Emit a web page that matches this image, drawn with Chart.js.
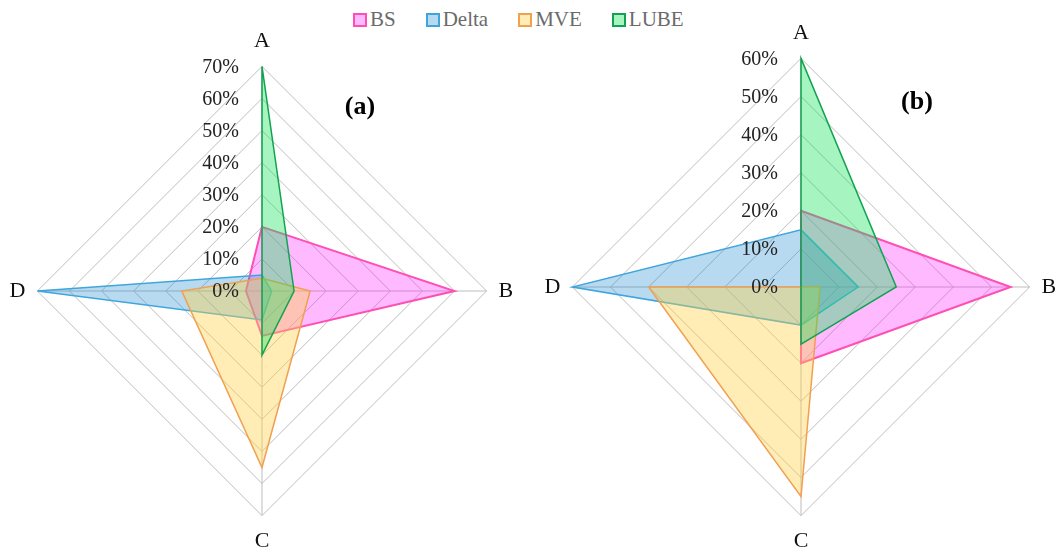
<!DOCTYPE html>
<html>
<head>
<meta charset="utf-8">
<script src="https://cdn.jsdelivr.net/npm/chart.js@4.4.1/dist/chart.umd.min.js"></script>
<style>
    html, body { margin: 0; padding: 0; background: #fff; overflow: hidden; }
    body { width: 1055px; height: 554px; position: relative; }
    .panel { position: absolute; top: 0; height: 554px; }
    #legend {
        position: absolute; top: 7px; left: 353px;
        font-family: 'Liberation Serif', serif; font-size: 21px; color: #6b6b6b;
        display: flex; gap: 30px; align-items: center;
    }
    #legend span { display: flex; align-items: center; }
    #legend i { display: inline-block; width: 10px; height: 10px; margin-right: 3px; border: 2px solid; }
</style>
</head>
<body>
<div id="legend"></div>
<div class="panel" style="left:0;width:525px"><canvas id="chartA"></canvas></div>
<div class="panel" style="left:525px;width:560px"><canvas id="chartB"></canvas></div>
<script>
// Axis categories
const axes = ['A', 'B', 'C', 'D'];
const seriesNames = ['BS', 'Delta', 'MVE', 'LUBE'];

// Panel (a) values, %
const bsA = [20, 60, 14, 5];
const deltaA = [5, 3, 9, 70];
const mveA = [4, 15, 55, 25];
const lubeA = [70, 10, 20, 0];

// Panel (b) values, %
const bsB = [20, 55, 20, 0];
const deltaB = [15, 15, 10, 60];
const mveB = [0, 5, 55, 40];
const lubeB = [60, 25, 15, 0];

const colors = {
    BS: { border: '#ff4fb4', fill: 'rgba(255, 40, 255, 0.32)' },
    Delta: { border: '#3ea6dc', fill: 'rgba(30, 140, 210, 0.32)' },
    MVE: { border: '#f0a050', fill: 'rgba(255, 210, 70, 0.4)' },
    LUBE: { border: '#12a352', fill: 'rgba(20, 225, 90, 0.38)' }
};

const serif = "'Liberation Serif', 'Times New Roman', serif";

// legend
const legendEl = document.getElementById('legend');
seriesNames.forEach(name => {
    const s = document.createElement('span');
    s.innerHTML = '<i style="background:' + colors[name].fill + ';border-color:' + colors[name].border + '"></i>' + name;
    legendEl.appendChild(s);
});

// draws tick labels left of the vertical axis and the panel tag
const sideTicks = {
    id: 'sideTicks',
    afterDraw(chart, args, opts) {
        const r = chart.scales.r;
        const ctx = chart.ctx;
        ctx.save();
        ctx.font = '20px ' + serif;
        ctx.fillStyle = '#222';
        ctx.textAlign = 'right';
        ctx.textBaseline = 'middle';
        r.ticks.forEach(t => {
            const d = r.getDistanceFromCenterForValue(t.value);
            ctx.fillText(t.value + '%', r.xCenter - 23, r.yCenter - d + 1);
        });
        ctx.font = 'bold 26px ' + serif;
        ctx.textAlign = 'center';
        ctx.fillStyle = '#000';
        ctx.fillText(opts.tag, r.xCenter + opts.dx, opts.y);
        ctx.restore();
    }
};

function makeDatasets(bs, delta, mve, lube) {
    // later series sit on top, like the original
    return [bs, delta, mve, lube].map((vals, i) => {
        const name = seriesNames[i];
        return {
            label: name,
            data: vals,
            order: 3 - i,
            borderColor: colors[name].border,
            backgroundColor: colors[name].fill,
            borderWidth: name === 'BS' ? 2 : 1.5,
            pointRadius: 0,
            fill: true
        };
    });
}

function makeChart(id, datasets, max, tag, tagDx, tagY, padding) {
    return new Chart(document.getElementById(id), {
        type: 'radar',
        data: { labels: axes, datasets: datasets },
        options: {
            responsive: true,
            maintainAspectRatio: false,
            animation: false,
            layout: { padding: padding },
            plugins: {
                legend: { display: false },
                tooltip: { enabled: false },
                sideTicks: { tag: tag, dx: tagDx, y: tagY }
            },
            scales: {
                r: {
                    min: 0,
                    max: max,
                    ticks: { stepSize: 10, display: false },
                    grid: { color: '#bdbdbd', lineWidth: 1 },
                    angleLines: { color: '#bdbdbd', lineWidth: 1 },
                    pointLabels: {
                        color: '#111',
                        padding: 12,
                        font: { family: serif, size: 22 }
                    }
                }
            }
        },
        plugins: [sideTicks]
    });
}

makeChart('chartA', makeDatasets(bsA, deltaA, mveA, lubeA), 70, '(a)', 98, 107,
    { left: 6, right: 8, top: 28, bottom: 0 });
makeChart('chartB', makeDatasets(bsB, deltaB, mveB, lubeB), 60, '(b)', 116, 102,
    { left: 3, right: 12, top: 20, bottom: 0 });
</script>
</body>
</html>
